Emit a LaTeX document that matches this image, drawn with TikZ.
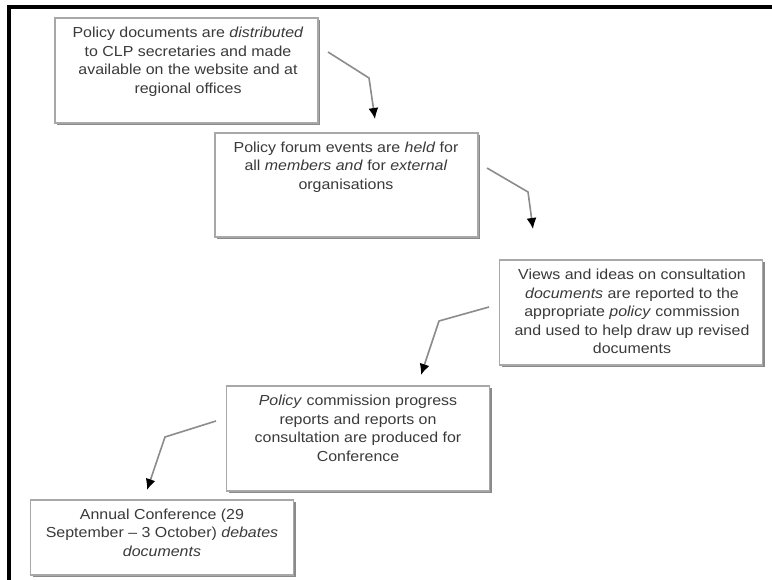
\documentclass[tikz,border=0pt]{standalone}
\usepackage{fontspec}
\setmainfont{Liberation Sans}
\usepackage{graphicx}
\usetikzlibrary{arrows.meta}
\definecolor{boxline}{HTML}{A8A8A8}
\definecolor{boxshadow}{HTML}{8A8A8A}
\definecolor{arrline}{HTML}{8C8C8C}
\definecolor{txtcol}{HTML}{3A3A3A}
\newcommand{\boxlines}[1]{\scalebox{1.1}[1]{\fontsize{14.5}{18.5}\selectfont\begin{tabular}{@{}c@{}}#1\end{tabular}}}
\tikzset{
  stepbox/.style={draw=boxline, line width=1.1pt, fill=white, inner sep=0pt,
    minimum width=263pt, minimum height=#1},
  shadowbox/.style={fill=boxshadow, inner sep=0pt, minimum width=263pt, minimum height=#1},
  boxtext/.style={inner sep=0pt, text=txtcol},
  flow/.style={draw=arrline, line width=1.6pt, line join=round,
    -{Latex[length=11pt,width=10pt,fill=black,color=black]}},
  frame/.style={draw=black, line width=4pt, line join=miter}
}
\begin{document}
\begin{tikzpicture}[x=1pt,y=-1pt]
\useasboundingbox (0,0) rectangle (772,580);
\fill[white] (0,0) rectangle (772,580);
\begin{scope}
\clip (0,0) rectangle (772,580);
\coordinate (fbl) at (8.5,640);
\coordinate (fcorner) at (8.5,7);
\coordinate (ftr) at (820,7);
\draw[frame] (fbl) -- (fcorner) -- (ftr);
\end{scope}

% shadows
\node[shadowbox=105pt] (s1) at (188.5,72.5) {};
\node[shadowbox=104pt] (s2) at (348.5,187) {};
\node[shadowbox=105pt] (s3) at (633,314.5) {};
\node[shadowbox=105pt] (s4) at (360,440.5) {};
\node[shadowbox=75pt]  (s5) at (164,539.5) {};

% boxes
\node[stepbox=105pt] (b1) at (186.5,70.5) {};
\node[stepbox=104pt] (b2) at (346.5,185) {};
\node[stepbox=105pt] (b3) at (631,312.5) {};
\node[stepbox=105pt] (b4) at (358,438.5) {};
\node[stepbox=75pt]  (b5) at (162,537.5) {};

% texts
\node[boxtext] (t1) at (188,62) {\boxlines{Policy documents are \textit{distributed}\\to CLP secretaries and made\\available on the website and at\\regional offices}};
\node[boxtext] (t2) at (346,167) {\boxlines{Policy forum events are \textit{held} for\\all \textit{members and} for \textit{external}\\organisations}};
\node[boxtext] (t3) at (632,313) {\boxlines{Views and ideas on consultation\\\textit{documents} are reported to the\\appropriate \textit{policy} commission\\and used to help draw up revised\\documents}};
\node[boxtext] (t4) at (358,430) {\boxlines{\textit{Policy} commission progress\\reports and reports on\\consultation are produced for\\Conference}};
\node[boxtext] (t5) at (162,534) {\boxlines{Annual Conference (29\\September – 3 October) \textit{debates}\\\textit{documents}}};

% connectors
\coordinate (a1s) at (328,52);
\coordinate (a1m) at (369,78);
\coordinate (a1e) at (375,119);
\coordinate (a2s) at (487,168);
\coordinate (a2m) at (528,192);
\coordinate (a2e) at (533,229);
\coordinate (a3s) at (489,307);
\coordinate (a3m) at (439,321);
\coordinate (a3e) at (421,375);
\coordinate (a4s) at (216,421);
\coordinate (a4m) at (165,437);
\coordinate (a4e) at (147,490);
\draw[flow] (a1s) -- (a1m) -- (a1e);
\draw[flow] (a2s) -- (a2m) -- (a2e);
\draw[flow] (a3s) -- (a3m) -- (a3e);
\draw[flow] (a4s) -- (a4m) -- (a4e);
\end{tikzpicture}
\end{document}
